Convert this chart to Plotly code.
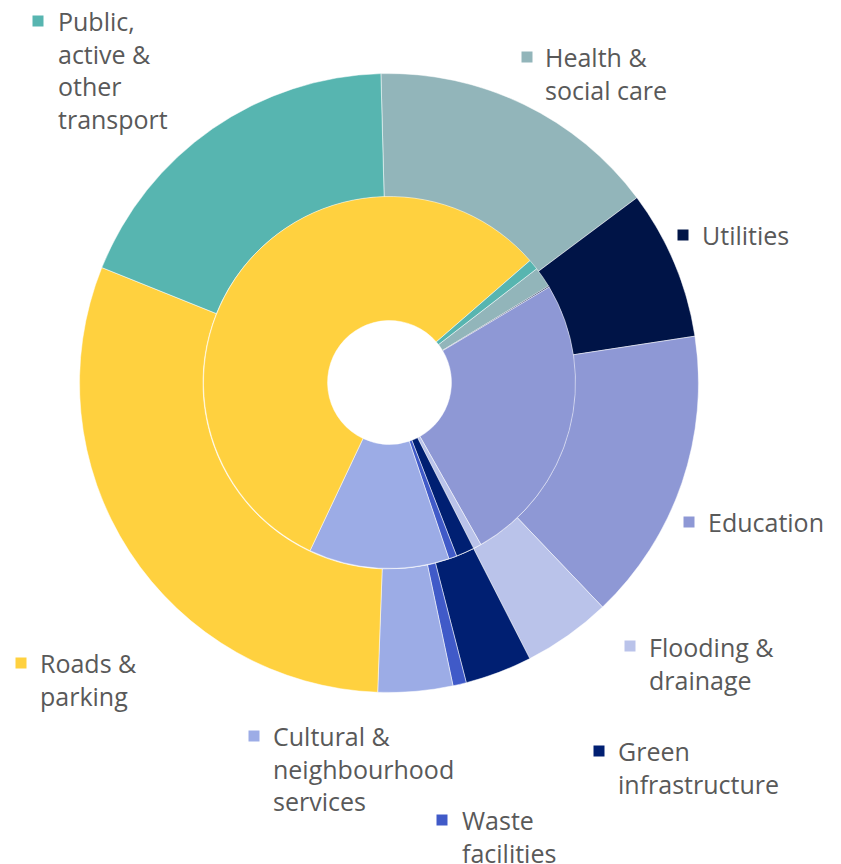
import plotly.graph_objects as go

# categories in drawing order (clockwise)
categories = [
    "Health & social care",
    "Utilities",
    "Education",
    "Flooding & drainage",
    "Green infrastructure",
    "Waste facilities",
    "Cultural & neighbourhood services",
    "Roads & parking",
    "Public, active & other transport",
]
# label text as shown next to the chart
label_text = [
    "Health &<br>social care",
    "Utilities",
    "Education",
    "Flooding &<br>drainage",
    "Green<br>infrastructure",
    "Waste<br>facilities",
    "Cultural &<br>neighbourhood<br>services",
    "Roads &<br>parking",
    "Public,<br>active &<br>other<br>transport",
]
colors = ["#92B5BA", "#001447", "#8E98D5", "#BAC3EA", "#001F72",
          "#405AC8", "#9CACE6", "#FFD13F", "#57B5B0"]

# share of total, outer ring and inner ring (%)
outer_values = [15.2, 7.8, 15.3, 4.6, 3.5, 0.7, 3.9, 30.5, 18.5]
inner_values = [1.8, 0.1, 25.4, 0.7, 1.6, 0.7, 12.2, 56.6, 0.9]

W, H = 841, 864
OFF = 8  # page body margin in the browser

# label placement in screen pixels: text left x, block centre y, square centre
label_pos = [
    (543, 74, 527, 57),
    (700, 235, 683, 235),
    (706, 522, 689, 522),
    (647, 663, 630, 646),
    (616, 767, 599, 751),
    (460, 836, 442, 820),
    (271, 768, 254, 736),
    (38, 679, 21, 663),
    (56, 70, 38, 21),
]


def px(x):
    return (x - OFF) / W


def py(y):
    return 1 - (y - OFF) / H


def dom(cx, cy, r):
    return dict(x=[px(cx - r), px(cx + r)], y=[py(cy + r), py(cy - r)])


fig = go.Figure()
fig.add_trace(go.Pie(
    labels=categories, values=outer_values, sort=False,
    direction="clockwise", rotation=-1.5, hole=0.601,
    marker=dict(colors=colors, line=dict(color="white", width=0.5)),
    textinfo="none", hoverinfo="label+value",
    domain=dom(389, 383, 309.5),
))
fig.add_trace(go.Pie(
    labels=categories, values=inner_values, sort=False,
    direction="clockwise", rotation=52.3, hole=0.333,
    marker=dict(colors=colors, line=dict(color="white", width=0.5)),
    textinfo="none", hoverinfo="label+value",
    domain=dom(389.5, 382.5, 186),
))

sq = 11
for txt, col, (tx, ty, sx, sy) in zip(label_text, colors, label_pos):
    fig.add_annotation(
        text=txt, x=px(tx), y=py(ty), xref="paper", yref="paper",
        xanchor="left", yanchor="middle", align="left", showarrow=False,
        font=dict(family="Open Sans", size=25, color="#595959"),
    )
    fig.add_shape(
        type="rect", xref="paper", yref="paper",
        x0=px(sx - sq / 2), x1=px(sx + sq / 2),
        y0=py(sy + sq / 2), y1=py(sy - sq / 2),
        fillcolor=col, line=dict(width=0),
    )

fig.update_layout(
    width=W, height=H, showlegend=False,
    margin=dict(l=0, r=0, t=0, b=0),
    paper_bgcolor="white", plot_bgcolor="white",
)
fig.write_html("out.html")
